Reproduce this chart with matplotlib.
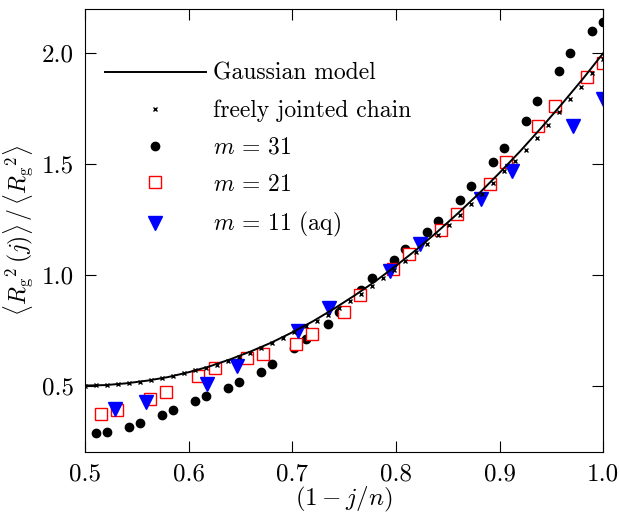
import matplotlib
matplotlib.use("Agg")
from matplotlib import pyplot as plt
import numpy as np

plt.rcParams['font.family'] = 'serif'
plt.rcParams['font.serif'] = ['cmr10']
plt.rcParams['mathtext.fontset'] = 'cm'
plt.rcParams['axes.formatter.use_mathtext'] = True

# Gaussian model curve
gauss_x = [0.50, 0.52, 0.54, 0.56, 0.58, 0.60, 0.62, 0.64, 0.66, 0.68, 0.70, 0.72, 0.74,
           0.76, 0.78, 0.80, 0.82, 0.84, 0.86, 0.88, 0.90, 0.92, 0.94, 0.96, 0.98, 1.00]
gauss_y = [0.500, 0.502, 0.510, 0.522, 0.538, 0.560, 0.586, 0.618, 0.654, 0.694, 0.740,
           0.790, 0.846, 0.906, 0.970, 1.040, 1.114, 1.194, 1.278, 1.366, 1.460, 1.558,
           1.662, 1.770, 1.882, 2.000]

# freely jointed chain, k = 47..94, x = k/94
fjc_k = list(range(47, 95))
fjc_y = [0.500, 0.501, 0.503, 0.506, 0.511, 0.517, 0.524, 0.533, 0.543, 0.555, 0.568,
         0.577, 0.593, 0.610, 0.628, 0.648, 0.669, 0.691, 0.715, 0.740, 0.767,
         0.789, 0.819, 0.849, 0.881, 0.914, 0.949, 0.985, 1.022, 1.061, 1.101,
         1.138, 1.180, 1.224, 1.270, 1.317, 1.365, 1.415, 1.466,
         1.511, 1.564, 1.619, 1.676, 1.734, 1.793, 1.847, 1.909, 1.972]

# m = 31, x = k/94
m31_k = [48, 49, 51, 52, 54, 55, 57, 58, 60, 61, 63, 64, 66, 67, 69, 70,
         72, 73, 75, 76, 78, 79, 81, 82, 84, 85, 87, 88, 90, 91, 93, 94]
m31_y = [0.284, 0.291, 0.312, 0.332, 0.366, 0.390, 0.432, 0.454, 0.491, 0.515,
         0.560, 0.599, 0.668, 0.709, 0.778, 0.830, 0.932, 0.985, 1.066, 1.117,
         1.191, 1.242, 1.338, 1.402, 1.509, 1.573, 1.694, 1.785, 1.920, 1.999,
         2.098, 2.141]

# m = 21, x = k/64
m21_k = [33, 34, 36, 37, 39, 40, 42, 43, 45, 46, 48, 49, 51, 52, 54, 55, 57, 58,
         60, 61, 63, 64]
m21_y = [0.371, 0.391, 0.437, 0.472, 0.541, 0.578, 0.625, 0.644, 0.688, 0.731,
         0.832, 0.910, 1.027, 1.095, 1.203, 1.273, 1.410, 1.509, 1.671, 1.763,
         1.892, 1.956]

# m = 11 (aq), x = k/34
m11_k = [18, 19, 21, 22, 24, 25, 27, 28, 30, 31, 33, 34]
m11_y = [0.396, 0.427, 0.509, 0.590, 0.745, 0.848, 1.015, 1.138, 1.342, 1.468,
         1.673, 1.793]

fig = plt.figure(figsize=(6.2, 5.16), dpi=100)
ax = fig.add_axes([0.137, 0.124, 0.836, 0.859])

ax.plot(gauss_x, gauss_y, color='black', lw=1.4, label='Gaussian model', zorder=3)
ax.plot(np.array(fjc_k) / 94, fjc_y, 'x', color='black', ms=2.5, mew=1.0,
        label='freely jointed chain', zorder=4)
ax.plot(np.array(m31_k) / 94, m31_y, 'o', color='black', ms=6,
        label='$m\\,=\\,31$', zorder=2)
ax.plot(np.array(m21_k) / 64, m21_y, 's', mfc='white', mec='red', ms=8, mew=1.0,
        label='$m\\,=\\,21$', zorder=2)
ax.plot(np.array(m11_k) / 34, m11_y, 'v', color='blue', ms=9.5,
        label='$m\\,=\\,11$ (aq)', zorder=2)

ax.set_xlim(0.5, 1.0)
ax.set_ylim(0.2, 2.2)
ax.set_xticks([0.5, 0.6, 0.7, 0.8, 0.9, 1.0])
ax.set_yticks([0.5, 1.0, 1.5, 2.0])
ax.xaxis.set_major_formatter(matplotlib.ticker.FormatStrFormatter('%.1f'))
ax.yaxis.set_major_formatter(matplotlib.ticker.FormatStrFormatter('%.1f'))
ax.tick_params(direction='in', length=8, width=0.8, top=True, right=True,
               labelsize=18, pad=8)

ax.set_xlabel('$(1-j/n)$', fontsize=18, labelpad=0)
ax.set_ylabel('$\\langle {R_{\\mathrm{g}}}^{2}\\,(j)\\rangle\\,/\\,\\langle {R_{\\mathrm{g}}}^{2}\\rangle$',
              fontsize=17, labelpad=4)

ax.legend(loc='upper left', bbox_to_anchor=(0.038, 0.878), frameon=False, fontsize=17,
          handlelength=4.3, handletextpad=0.3, labelspacing=0.62, borderpad=0,
          borderaxespad=0, numpoints=1)

fig.savefig('out.png', dpi=100)
